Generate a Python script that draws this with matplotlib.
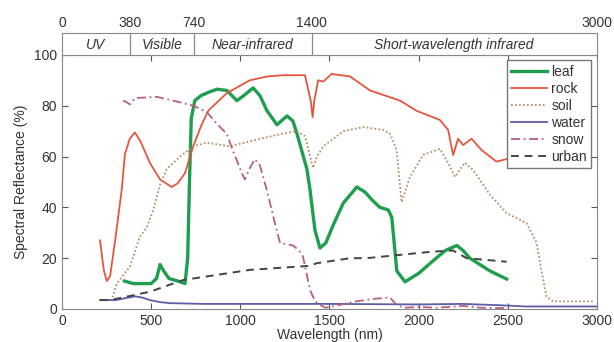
import matplotlib.pyplot as plt

plt.rcParams['font.family'] = ['Liberation Sans', 'DejaVu Sans']
plt.rcParams['text.color'] = '#333333'
plt.rcParams['axes.labelcolor'] = '#333333'
plt.rcParams['xtick.color'] = '#555555'
plt.rcParams['ytick.color'] = '#555555'
plt.rcParams['xtick.labelcolor'] = '#333333'
plt.rcParams['ytick.labelcolor'] = '#333333'

# spectral bands (nm)
band_edges = [0, 380, 740, 1400, 3000]
band_names = ['UV', 'Visible', 'Near-infrared', 'Short-wavelength infrared']

leaf_nm = [350, 400, 450, 500, 530, 550, 570, 600, 650, 690, 705, 715, 725, 745, 780, 830,
           870, 925, 960, 981, 1020, 1072, 1110, 1150, 1206, 1262, 1295, 1318, 1350, 1374,
           1391, 1419, 1447, 1480, 1521, 1578, 1654, 1700, 1738, 1783, 1830, 1850, 1878,
           1924, 2000, 2082, 2150, 2215, 2250, 2288, 2400, 2494]
leaf = [11, 10, 10, 10, 12, 17.5, 15, 12, 11, 10, 20, 50, 75, 82, 84, 85.5,
        86.5, 86, 83.5, 82, 84, 87, 84, 78, 72.5, 76, 74, 69, 61, 55,
        47, 31, 24, 26, 33, 41.7, 48, 46, 43, 40, 39, 36, 15,
        10.7, 14, 19, 23, 25, 23, 20, 15, 11.8]

rock_nm = [213, 235, 252, 270, 300, 335, 353, 380, 409, 440, 493, 550, 615, 650, 690, 736,
           780, 820, 925, 1054, 1150, 1240, 1363, 1395, 1406, 1415, 1437, 1466, 1512,
           1616, 1728, 1896, 1989, 2120, 2166, 2194, 2222, 2250, 2297, 2353, 2437, 2494]
rock = [27, 15, 11, 13, 28, 47, 61, 67, 69.5, 66, 57.5, 51, 48, 49.5, 53.5, 64,
        72, 78, 85, 90, 91.5, 92, 92, 82, 75.5, 82, 90, 89.5, 92.5,
        91.5, 86, 82, 78, 74.4, 70.5, 60.6, 67, 64.5, 67, 62.6, 58, 59]

soil_nm = [250, 279, 307, 340, 381, 437, 475, 512, 550, 587, 662, 736, 811, 942, 1054,
           1204, 1316, 1363, 1385, 1408, 1430, 1466, 1578, 1690, 1800, 1840, 1877, 1905,
           1952, 2025, 2120, 2166, 2204, 2260, 2306, 2400, 2494, 2606, 2662, 2690, 2718,
           2755, 2850, 2980]
soil = [3.5, 3.5, 10, 13, 16.7, 28.5, 32, 39, 49, 55, 60, 64, 65.5, 64, 66,
        68.5, 70, 68, 62, 55.5, 60, 64, 70, 71.6, 70.5, 69, 62.6, 42,
        52, 60.6, 63, 57.5, 52, 57.6, 54.7, 45, 37.7, 33.8, 26, 15, 4.8,
        3, 3, 3]

water_nm = [213, 300, 350, 409, 450, 493, 550, 605, 800, 1500, 2000, 2250, 2450, 2600, 3000]
water = [3.5, 3.5, 4.2, 5, 4.5, 3.5, 2.7, 2.3, 2, 2, 1.8, 2, 1.5, 1, 1]

snow_nm = [342, 360, 381, 409, 531, 624, 736, 811, 867, 924, 960, 980, 1008, 1026, 1050,
           1082, 1110, 1148, 1190, 1223, 1260, 1296, 1330, 1352, 1391, 1420, 1447, 1480,
           1550, 1650, 1750, 1840, 1878, 1920, 2000, 2100, 2250, 2350, 2500]
snow = [82, 81.5, 80.5, 83, 83.5, 82, 80, 77.6, 73, 69, 62, 58.6, 53.5, 51, 55,
        59, 56.5, 47, 35, 26, 25.5, 25, 23, 20.6, 7.5, 3, 1.6, 0.5,
        1.5, 3, 4, 4.5, 1.5, 0.5, 0.8, 0.5, 1.2, 0.5, 0.3]

urban_nm = [213, 270, 493, 680, 1054, 1391, 1428, 1616, 1709, 2082, 2194, 2270, 2494]
urban = [3.5, 3.5, 6.8, 11.4, 15.4, 17, 18, 20, 20, 22.6, 23, 20, 18.6]

fig = plt.figure(figsize=(6.14, 3.42), dpi=100)
ax = fig.add_axes([0.101, 0.0965, 0.871, 0.743])
top = fig.add_axes([0.101, 0.839, 0.871, 0.064])

ax.plot(leaf_nm, leaf, color='#1f9e4f', lw=2.4, label='leaf')
ax.plot(rock_nm, rock, color='#e2573d', lw=1.3, label='rock')
ax.plot(soil_nm, soil, color='#b8926a', lw=1.3, ls=(0, (1, 1.2)), label='soil')
ax.plot(water_nm, water, color='#5b5ea6', lw=1.3, label='water')
ax.plot(snow_nm, snow, color='#b9607e', lw=1.3, ls=(0, (5, 2, 1, 2)), label='snow')
ax.plot(urban_nm, urban, color='#444444', lw=1.4, ls=(0, (4, 3)), label='urban')

ax.set_xlim(0, 3000)
ax.set_ylim(0, 100)
ax.set_xticks(range(0, 3001, 500))
ax.set_yticks(range(0, 101, 20))
ax.tick_params(direction='in', top=True, right=True, labelsize=10, length=4, width=0.8)
ax.set_xlabel('Wavelength (nm)', fontsize=10, labelpad=0)
ax.set_ylabel('Spectral Reflectance (%)', fontsize=10, labelpad=4)
for s in ax.spines.values():
    s.set_color('#888888')

leg = ax.legend(loc='upper right', fontsize=10, handlelength=2.6, handletextpad=0.3,
                labelspacing=0.22, borderpad=0.3, fancybox=False, framealpha=1,
                edgecolor='#777777', borderaxespad=0.4)

top.set_xlim(0, 3000)
top.set_ylim(0, 1)
top.set_yticks([])
top.set_xticks(band_edges)
top.xaxis.tick_top()
top.tick_params(axis='x', length=0, labelsize=10, pad=2)
for s in top.spines.values():
    s.set_color('#888888')
for e in band_edges[1:-1]:
    top.axvline(e, color='#888888', lw=0.9)
for i, name in enumerate(band_names):
    mid = (band_edges[i] + band_edges[i + 1]) / 2
    top.text(mid, 0.45, name, ha='center', va='center', style='italic', fontsize=10)

fig.savefig('out.png', dpi=100)
